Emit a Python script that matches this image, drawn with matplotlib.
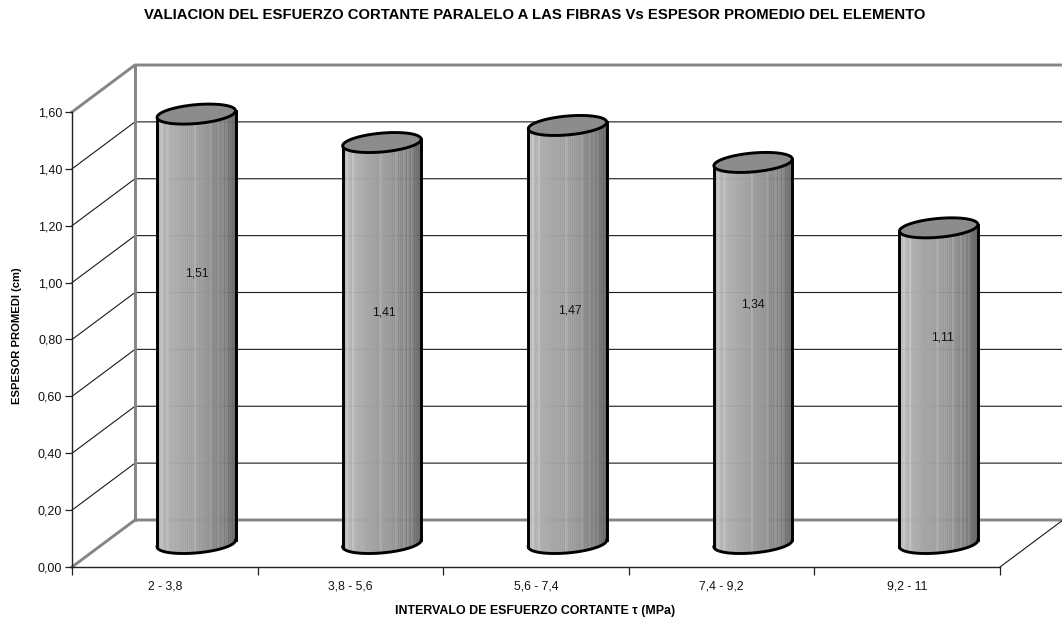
import numpy as np
import matplotlib
matplotlib.use("Agg")
import matplotlib.pyplot as plt

plt.rcParams['font.family'] = ['Liberation Sans', 'DejaVu Sans']

TITLE = "VALIACION DEL ESFUERZO CORTANTE PARALELO A LAS FIBRAS Vs ESPESOR PROMEDIO DEL ELEMENTO"
XLABEL = "INTERVALO DE ESFUERZO CORTANTE τ (MPa)"
YLABEL = "ESPESOR PROMEDI (cm)"
categories = ["2 - 3,8", "3,8 - 5,6", "5,6 - 7,4", "7,4 - 9,2", "9,2 - 11"]
values = [1.51, 1.41, 1.47, 1.34, 1.11]
value_labels = ["1,51", "1,41", "1,47", "1,34", "1,11"]
label_heights = [1.031, 0.894, 0.901, 0.922, 0.806]
label_shift = [0.005, 0.01, 0.015, 0.0, 0.02]
yticks = [0.0, 0.2, 0.4, 0.6, 0.8, 1.0, 1.2, 1.4, 1.6]

W, H = 1062, 617
fig = plt.figure(figsize=(W / 100, H / 100), dpi=100, facecolor='white')
L, R, T, B = 72, 1000, 112, 567
ax = fig.add_axes([L / W, 1 - B / H, (R - L) / W, (B - T) / H])
ax.set_xlim(0, 5)
ax.set_ylim(0, 1.6)
ax.patch.set_visible(False)

px_x = 5 / (R - L)            # data per pixel
px_y = 1.6 / (B - T)
DX, DY = 63 * px_x, 47 * px_y  # chart depth
GRAY = '#858585'
NOCLIP = dict(clip_on=False)

# walls
for y in yticks[1:-1]:
    ax.plot([0, DX, 5 + DX], [y, y + DY, y + DY], color='#1a1a1a', lw=0.8, zorder=1, **NOCLIP)
ax.plot([0, DX, 5 + DX], [1.6, 1.6 + DY, 1.6 + DY], color=GRAY, lw=2.1, zorder=1,
        solid_joinstyle='miter', **NOCLIP)
ax.plot([0, DX, 5 + DX], [0, DY, DY], color=GRAY, lw=2.1, zorder=1, **NOCLIP)
ax.plot([DX, DX], [DY, 1.6 + DY], color=GRAY, lw=2.1, zorder=1, **NOCLIP)
ax.plot([5, 5 + DX], [0, DY], color='#1a1a1a', lw=0.8, zorder=1, **NOCLIP)

# cylinders
half_w = 37 * px_x
depth_x, depth_y = 13 * px_x, 10 * px_y
t = np.linspace(0, 2 * np.pi, 121)
stops = [0.0, 0.1, 0.35, 0.6, 0.85, 1.0]
shades = [0.74, 0.70, 0.64, 0.60, 0.49, 0.40]
light_strips = {2, 5, 19, 27, 31, 33, 35}
N = 40
for i, v in enumerate(values):
    cx = i + 0.5 + DX / 2
    cy = DY / 2
    ex = lambda a: cx + half_w * np.cos(a) + depth_x * np.sin(a)
    ey = lambda a, base: base + depth_y * np.sin(a)
    # extreme points of the ellipse: the right one rises, the left one falls
    a0 = np.arctan2(depth_x / px_x, half_w / px_x)
    a_left, a_right = np.pi + a0, 2 * np.pi + a0
    # strips uniform across the visible width
    xx = np.linspace(ex(a_left), ex(a_right), N + 1)
    grid = np.linspace(a_left, a_right, 400)
    angles = np.interp(xx, ex(grid), grid)
    for k in range(N):
        a = np.linspace(angles[k], angles[k + 1], 4)
        frac = (k + 0.5) / N
        s = np.interp(frac, stops, shades)
        if k in light_strips:
            s += 0.06
        xs = np.r_[ex(a), ex(a[::-1])]
        ys = np.r_[ey(a, cy), ey(a[::-1], cy + v)]
        ax.fill(xs, ys, color=str(round(s, 3)), lw=0.25, zorder=3, **NOCLIP)
    a = np.linspace(a_left, a_right, 60)
    ax.plot(ex(a), ey(a, cy), color='black', lw=2.1, zorder=4, **NOCLIP)
    for side in (a_left, a_right):
        ax.plot([ex(side)] * 2, [ey(side, cy), ey(side, cy + v)], color='black', lw=2.1, zorder=4, **NOCLIP)
    ax.fill(ex(t), ey(t, cy + v), facecolor='#8c8c8c', edgecolor='black', lw=2.1, zorder=5, **NOCLIP)
    ax.text(cx + label_shift[i], label_heights[i], value_labels[i], ha='center', va='center',
            fontsize=8.8, color='#111111', zorder=6)

# axes
for s in ('top', 'right'):
    ax.spines[s].set_visible(False)
for s in ('left', 'bottom'):
    ax.spines[s].set_color('#222222')
    ax.spines[s].set_linewidth(1.0)
ax.set_yticks(yticks)
ax.set_yticklabels([f"{y:.2f}".replace('.', ',') for y in yticks], fontsize=9, color='#111111')
ax.set_xticks(np.arange(6))
ax.set_xticklabels([])
ax.set_xticks(np.arange(5) + 0.5, minor=True)
ax.set_xticklabels(categories, minor=True, fontsize=8.8, color='#111111')
ax.tick_params(axis='x', which='major', length=5.5, width=0.9, color='#222222')
ax.tick_params(axis='x', which='minor', length=0, pad=10)
ax.tick_params(axis='y', length=5, width=0.9, color='#222222', pad=2)

fig.text(535 / W, 1 - 15 / H, TITLE, ha='center', va='center', fontsize=10.7, fontweight='bold')
fig.text(535.5 / W, 1 - 611 / H, XLABEL, ha='center', va='center', fontsize=8.9, fontweight='bold')
fig.text(17.5 / W, 1 - 336 / H, YLABEL, ha='center', va='center', rotation=90, fontsize=8.1, fontweight='bold')

fig.savefig('out.png', dpi=100, facecolor='white')
